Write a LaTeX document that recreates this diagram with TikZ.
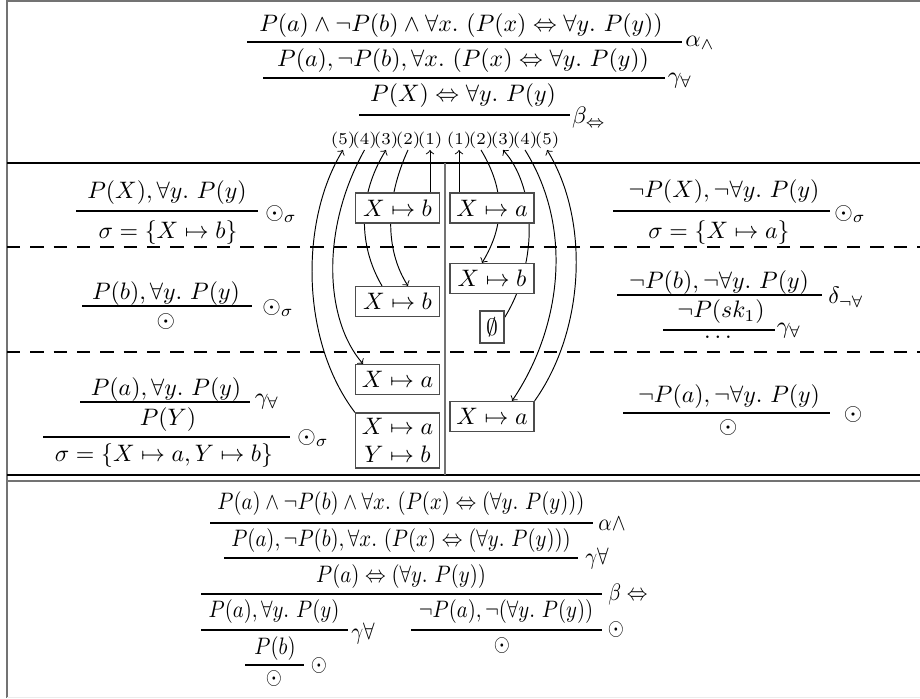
\documentclass[tikz,border=0pt]{standalone}
\usepackage{graphicx}
\usetikzlibrary{calc,backgrounds}
\definecolor{framegray}{gray}{0.45}
\definecolor{boxgray}{gray}{0.3}
\newcommand{\nrw}[1]{\scalebox{0.87}[1]{#1}}
\begin{document}
\begin{tikzpicture}[x=0.42pt,y=-0.42pt,
  tx/.style={inner sep=0pt},
  lab/.style={inner sep=0.5pt, font=\scriptsize},
  sub/.style={draw=boxgray, line width=0.5pt, fill=white, inner sep=0pt,
              minimum width=35.3pt, minimum height=12.6pt},
  bar/.style={line width=0.45pt},
  arr/.style={line width=0.4pt,->}
]
\useasboundingbox (0,0) rectangle (920,698);
% frame
\draw[framegray, line width=0.8pt] (7,1) -- (920,1);
\draw[framegray, line width=0.8pt] (7,0) -- (7,698);
\draw[gray!15, line width=0.3pt] (7,697) -- (920,697);
\draw[line width=0.45pt] (7,163) -- (920,163);
\draw[line width=0.45pt, dash pattern=on 5.6pt off 4.2pt] (7,247) -- (920,247);
\draw[line width=0.45pt, dash pattern=on 5.6pt off 4.2pt] (7,352) -- (920,352);
\draw[line width=0.45pt] (7,475) -- (920,475);
\draw[framegray, line width=0.8pt] (7,481) -- (920,481);
\draw[framegray, line width=0.6pt] (445,163) -- (445,475);

% top tableau
\node[tx] (t1) at (461,26) {$P(a)\wedge\neg P(b)\wedge\forall x.\ (P(x)\Leftrightarrow\forall y.\ P(y))$};
\draw[bar] (247,42) -- (682,42);
\node[tx] (n1) at (700,43) {$\alpha_\wedge$};
\node[tx] (t2) at (463,61) {$P(a),\neg P(b),\forall x.\ (P(x)\Leftrightarrow\forall y.\ P(y))$};
\draw[bar] (263,78) -- (665,78);
\node[tx] (n2) at (680,81) {$\gamma_\forall$};
\node[tx] (t3) at (463,96) {$P(X)\Leftrightarrow\forall y.\ P(y)$};
\draw[bar] (359,115) -- (570,115);
\node[tx] (n3) at (589,118) {$\beta_\Leftrightarrow$};

% left column
\node[tx] (la1) at (167,193) {$P(X),\forall y.\ P(y)$};
\draw[bar] (76,211) -- (258,211);
\node[tx] (la2) at (168,233) {$\sigma=\{X\mapsto b\}$};
\node[tx] (lr1) at (281,214) {$\odot_\sigma$};
\node[tx] (lb1) at (166,294) {$P(b),\forall y.\ P(y)$};
\draw[bar] (82,306) -- (252,306);
\node[tx] (lb2) at (166,322) {$\odot$};
\node[tx] (lr2) at (278,308) {$\odot_\sigma$};
\node[tx] (lc1) at (166,390) {$P(a),\forall y.\ P(y)$};
\draw[bar] (80,402) -- (250,402);
\node[tx] (lr3) at (267,402) {$\gamma_\forall$};
\node[tx] (lc2) at (168,420) {$P(Y)$};
\draw[bar] (43,437) -- (290,437);
\node[tx] (lc3) at (164,456) {$\sigma=\{X\mapsto a,Y\mapsto b\}$};
\node[tx] (lr4) at (313,438) {$\odot_\sigma$};

% right column
\node[tx] (ra1) at (724,192) {$\neg P(X),\neg\forall y.\ P(y)$};
\draw[bar] (613,211) -- (830,211);
\node[tx] (ra2) at (719,233) {$\sigma=\{X\mapsto a\}$};
\node[tx] (rr1) at (850,214) {$\odot_\sigma$};
\node[tx] (rb1) at (719,283) {$\neg P(b),\neg\forall y.\ P(y)$};
\draw[bar] (617,295) -- (822,295);
\node[tx] (rr2) at (846,297) {$\delta_{\neg\forall}$};
\node[tx] (rb2) at (721,312) {$\neg P(sk_1)$};
\draw[bar] (663,330) -- (775,330);
\node[tx] (rb3) at (718,337) {$\ldots$};
\node[tx] (rr3) at (789,331) {$\gamma_\forall$};
\node[tx] (rc1) at (729,397) {$\neg P(a),\neg\forall y.\ P(y)$};
\draw[bar] (623,413) -- (830,413);
\node[tx] (rc2) at (728,428) {$\odot$};
\node[tx] (rr4) at (853,415) {$\odot$};

% bottom tableau
\node[tx] (b1) at (401,504) {\nrw{$P(a)\wedge\neg P(b)\wedge\forall x.\ (P(x)\Leftrightarrow(\forall y.\ P(y)))$}};
\draw[bar] (210,523) -- (593,523);
\node[tx] (bn1) at (612,524) {\nrw{$\alpha\wedge$}};
\node[tx] (b2) at (401,541) {\nrw{$P(a),\neg P(b),\forall x.\ (P(x)\Leftrightarrow(\forall y.\ P(y)))$}};
\draw[bar] (224,558) -- (578,558);
\node[tx] (bn2) at (597,559) {\nrw{$\gamma\forall$}};
\node[tx] (b3) at (401,577) {\nrw{$P(a)\Leftrightarrow(\forall y.\ P(y))$}};
\draw[bar] (201,594) -- (602,594);
\node[tx] (bn3) at (628,595) {\nrw{$\beta\Leftrightarrow$}};
\node[tx] (b4) at (274,612) {\nrw{$P(a),\forall y.\ P(y)$}};
\draw[bar] (201,630) -- (348,630);
\node[tx] (bn4) at (363,634) {\nrw{$\gamma\forall$}};
\node[tx] (b5) at (275,649) {\nrw{$P(b)$}};
\draw[bar] (245,665) -- (304,665);
\node[tx] (b6) at (274,679) {\nrw{$\odot$}};
\node[tx] (bn5) at (319,666) {\nrw{$\odot$}};
\node[tx] (b7) at (506,612) {\nrw{$\neg P(a),\neg(\forall y.\ P(y))$}};
\draw[bar] (411,630) -- (602,630);
\node[tx] (b8) at (502,646) {\nrw{$\odot$}};
\node[tx] (bn6) at (616,630) {\nrw{$\odot$}};

% index labels
\node[lab] (l5) at (343,140) {(5)};
\node[lab] (l4) at (364.5,140) {(4)};
\node[lab] (l3) at (386,140) {(3)};
\node[lab] (l2) at (408,140) {(2)};
\node[lab] (l1) at (430,140) {(1)};
\node[lab] (r1) at (459,140) {(1)};
\node[lab] (r2) at (481,140) {(2)};
\node[lab] (r3) at (503,140) {(3)};
\node[lab] (r4) at (525,140) {(4)};
\node[lab] (r5) at (547,140) {(5)};

% substitution boxes
\node[sub] (bl1) at (397.5,208) {$X\mapsto b$};
\node[sub] (br1) at (492,208) {$X\mapsto a$};
\node[sub] (bl2) at (397.5,301.5) {$X\mapsto b$};
\node[sub] (br2) at (492,278.5) {$X\mapsto b$};
\node[sub, minimum width=10.1pt, minimum height=13.4pt] (be) at (492,327) {$\emptyset$};
\node[sub] (bl3) at (397.5,379.5) {$X\mapsto a$};
\node[sub] (br3) at (492,416.5) {$X\mapsto a$};
\node[sub, minimum height=23.1pt, align=center] (bl4) at (397.5,440.5) {$X\mapsto a$\\$Y\mapsto b$};

\begin{scope}[on background layer]
\fill[white] (0,0) rectangle (920,698);
\draw[arr] (bl1.north -| l1.south) -- (l1.south);
\draw[arr] (l2.south) .. controls (385,200) and (385,250) .. ($(bl2.north)+(10.5,0)$);
\draw[arr] ($(bl2.north)+(-15.5,0)$) .. controls (358,245) and (358,195) .. (l3.south);
\draw[arr] (l4.south) .. controls (320,230) and (325,320) .. ($(bl3.north)+(-34.5,0)$);
\draw[arr] (bl4.north west) .. controls (300,340) and (300,220) .. (l5.south);
\draw[arr] (br1.north -| r1.south) -- (r1.south);
\draw[arr] (r2.south) .. controls (505,190) and (505,225) .. ($(br2.north)+(-10,0)$);
\draw[arr] ($(be.north east)+(0,7)$) .. controls (540,260) and (535,185) .. (r3.south);
\draw[arr] (r4.south) .. controls (575,230) and (560,330) .. ($(br3.north)+(20,0)$);
\draw[arr] (br3.north east) .. controls (585,330) and (590,220) .. (r5.south);
\end{scope}
\end{tikzpicture}
\end{document}
